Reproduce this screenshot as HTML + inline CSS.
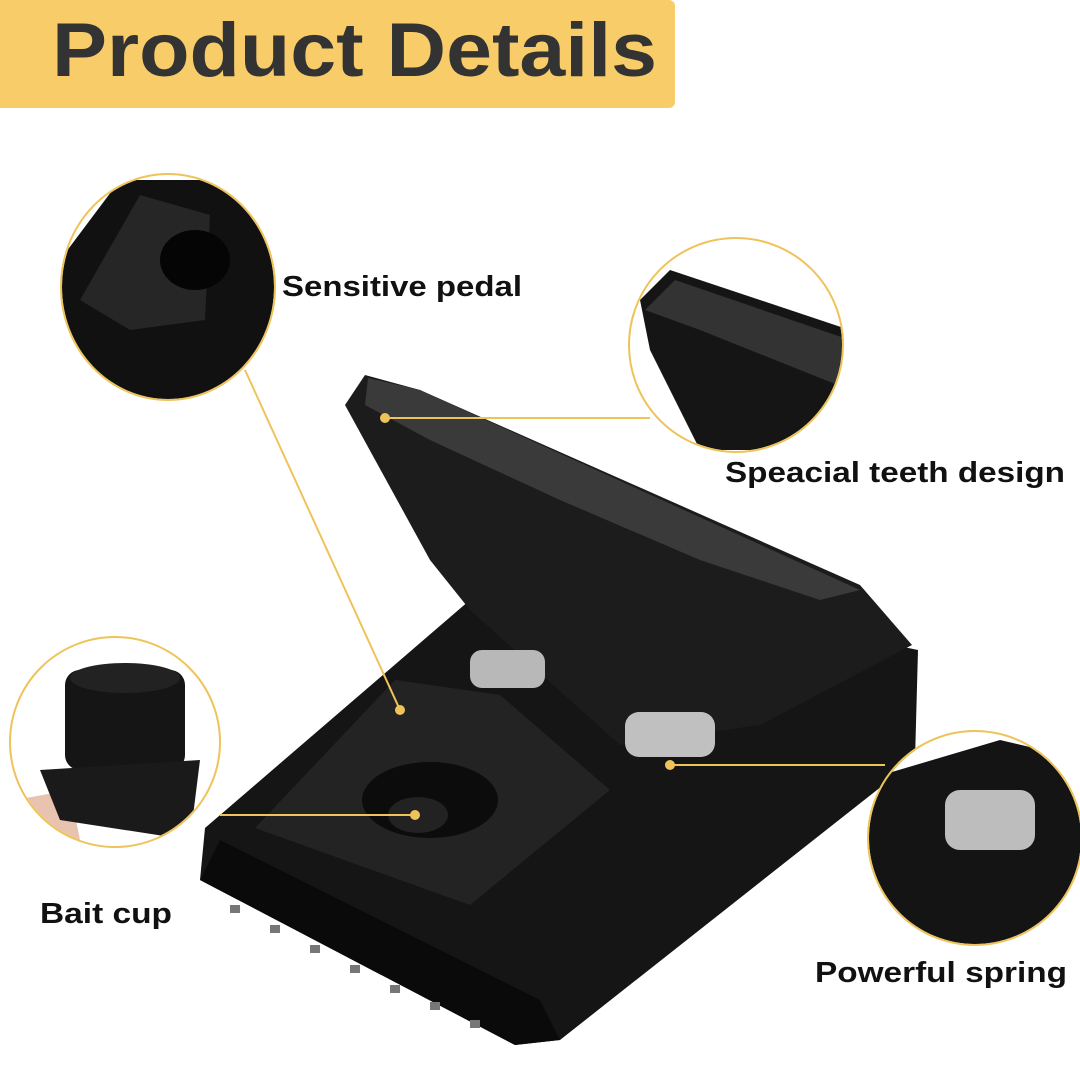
<!DOCTYPE html>
<html><head><meta charset="utf-8"><style>
html,body{margin:0;padding:0;background:#fff;width:1080px;height:1080px;overflow:hidden}
text{font-family:"Liberation Sans",sans-serif;font-weight:bold}
</style></head><body>
<svg width="1080" height="1080" viewBox="0 0 1080 1080" xmlns="http://www.w3.org/2000/svg">
<rect x="-10" y="0" width="685" height="108" rx="6" fill="#f8cc68"/>
<text x="52" y="76" font-size="76" fill="#333" textLength="605" lengthAdjust="spacingAndGlyphs">Product Details</text>

<!-- main trap base -->
<polygon points="205,828 470,600 700,605 918,650 915,760 560,1040 515,1045 200,880" fill="#151515"/>
<polygon points="200,880 515,1045 560,1040 540,1000 220,840" fill="#0a0a0a"/>
<!-- teeth on base -->
<g fill="#777">
<rect x="230" y="905" width="10" height="8"/><rect x="270" y="925" width="10" height="8"/><rect x="310" y="945" width="10" height="8"/><rect x="350" y="965" width="10" height="8"/><rect x="390" y="985" width="10" height="8"/><rect x="430" y="1002" width="10" height="8"/><rect x="470" y="1020" width="10" height="8"/>
</g>
<!-- jaw -->
<polygon points="345,405 365,375 420,390 860,585 912,645 760,725 620,745 470,610 430,560" fill="#1c1c1c"/>
<polygon points="365,405 430,440 560,500 700,560 820,600 860,590 420,390 368,378" fill="#3a3a3a"/>
<!-- springs -->
<rect x="470" y="650" width="75" height="38" rx="12" fill="#b8b8b8"/>
<rect x="625" y="712" width="90" height="45" rx="14" fill="#c0c0c0"/>
<!-- pedal -->
<polygon points="255,828 395,680 500,695 610,790 470,905" fill="#232323"/>
<ellipse cx="430" cy="800" rx="68" ry="38" fill="#0c0c0c"/>
<ellipse cx="418" cy="815" rx="30" ry="18" fill="#222"/>

<!-- connector lines -->
<g stroke="#eec35a" stroke-width="2" fill="none">
<line x1="245" y1="370" x2="400" y2="710"/>
<line x1="385" y1="418" x2="650" y2="418"/>
<line x1="220" y1="815" x2="415" y2="815"/>
<line x1="670" y1="765" x2="885" y2="765"/>
</g>
<g fill="#eec35a"><circle cx="400" cy="710" r="5"/><circle cx="385" cy="418" r="5"/><circle cx="415" cy="815" r="5"/><circle cx="670" cy="765" r="5"/></g>

<!-- circle 1 -->
<defs>
<clipPath id="c1"><ellipse cx="168" cy="287" rx="106" ry="112"/></clipPath>
<clipPath id="c2"><ellipse cx="736" cy="345" rx="106" ry="106"/></clipPath>
<clipPath id="c3"><ellipse cx="115" cy="742" rx="104" ry="104"/></clipPath>
<clipPath id="c4"><ellipse cx="975" cy="838" rx="106" ry="106"/></clipPath>
</defs>
<g clip-path="url(#c1)">
<rect x="60" y="170" width="220" height="240" fill="#fff"/>
<polygon points="60,260 120,180 280,180 280,410 60,410" fill="#111"/>
<polygon points="80,300 140,195 210,215 205,320 130,330" fill="#262626"/>
<ellipse cx="195" cy="260" rx="35" ry="30" fill="#050505"/>
</g>
<ellipse cx="168" cy="287" rx="107" ry="113" fill="none" stroke="#eec35a" stroke-width="2"/>

<g clip-path="url(#c2)">
<rect x="620" y="230" width="240" height="240" fill="#fff"/>
<polygon points="640,300 670,270 850,330 850,450 700,450 650,350" fill="#151515"/>
<polygon points="645,310 675,280 850,340 850,390 700,330" fill="#333"/>
</g>
<ellipse cx="736" cy="345" rx="107" ry="107" fill="none" stroke="#eec35a" stroke-width="2"/>

<g clip-path="url(#c3)">
<rect x="0" y="630" width="230" height="230" fill="#fff"/>
<path d="M15,800 Q20,850 60,850 L80,840 L70,790 Z" fill="#e8c4b0"/>
<rect x="65" y="670" width="120" height="100" rx="15" fill="#151515"/>
<polygon points="40,770 200,760 190,840 60,820" fill="#1a1a1a"/>
<ellipse cx="125" cy="678" rx="55" ry="15" fill="#222"/>
</g>
<ellipse cx="115" cy="742" rx="105" ry="105" fill="none" stroke="#eec35a" stroke-width="2"/>

<g clip-path="url(#c4)">
<rect x="865" y="728" width="220" height="220" fill="#fff"/>
<polygon points="865,780 1000,740 1085,760 1085,950 865,950" fill="#141414"/>
<rect x="945" y="790" width="90" height="60" rx="15" fill="#bdbdbd"/>
</g>
<ellipse cx="975" cy="838" rx="107" ry="107" fill="none" stroke="#eec35a" stroke-width="2"/>

<text x="282" y="296" font-size="29" fill="#111" textLength="240" lengthAdjust="spacingAndGlyphs">Sensitive pedal</text>
<text x="725" y="482" font-size="29" fill="#111" textLength="340" lengthAdjust="spacingAndGlyphs">Speacial teeth design</text>
<text x="40" y="923" font-size="29" fill="#111" textLength="132" lengthAdjust="spacingAndGlyphs">Bait cup</text>
<text x="815" y="982" font-size="29" fill="#111" textLength="252" lengthAdjust="spacingAndGlyphs">Powerful spring</text>
</svg>
</body></html>
